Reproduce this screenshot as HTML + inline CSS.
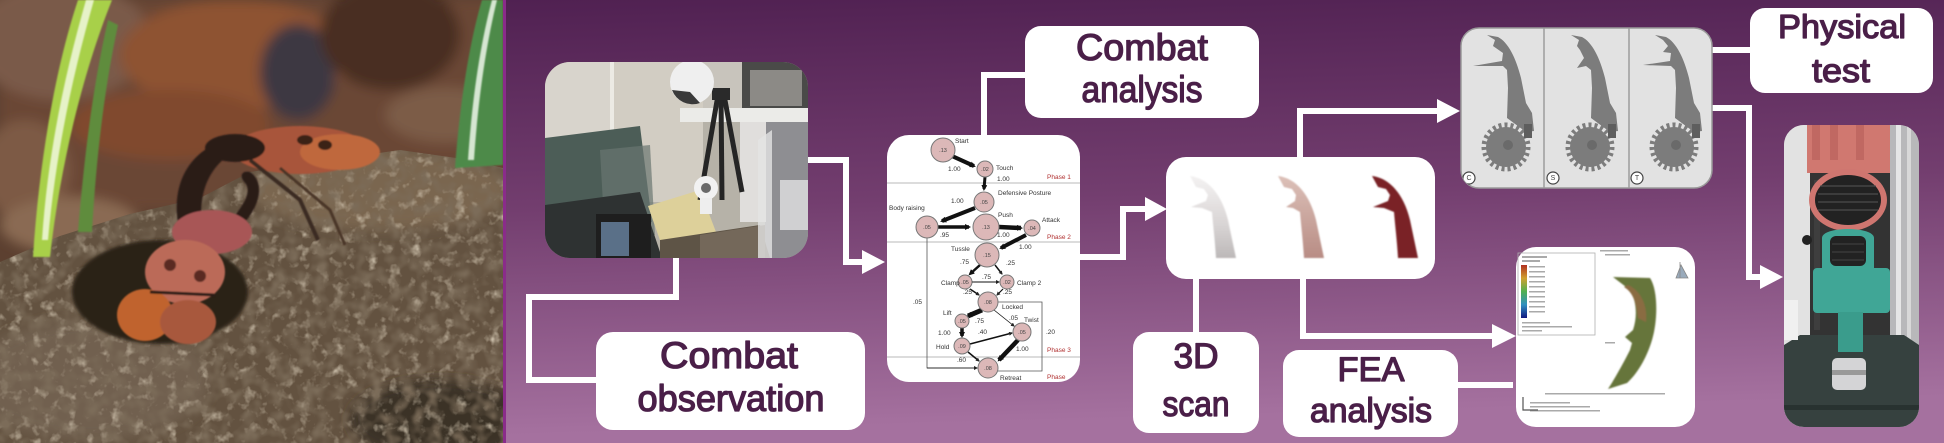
<!DOCTYPE html>
<html><head><meta charset="utf-8">
<style>
html,body{margin:0;padding:0;background:#4e1f50;overflow:hidden;}
svg{display:block;}
.lbl{font-family:"Liberation Sans","DejaVu Sans",sans-serif;fill:#4a1f48;stroke:#4a1f48;stroke-width:1.3;stroke-linejoin:round;text-anchor:middle;}
.nt{font-family:"Liberation Sans","DejaVu Sans",sans-serif;font-size:6.5px;fill:#333;}
.nr{font-family:"Liberation Sans","DejaVu Sans",sans-serif;font-size:6.5px;fill:#b03030;}
.nc{font-family:"Liberation Sans","DejaVu Sans",sans-serif;font-size:5.5px;fill:#444;text-anchor:middle;}
</style></head><body>
<svg width="1944" height="443" viewBox="0 0 1944 443" xmlns="http://www.w3.org/2000/svg">
<defs>
 <linearGradient id="bg" x1="0" y1="0" x2="0.12" y2="1">
  <stop offset="0" stop-color="#4e1f50"/>
  <stop offset="0.5" stop-color="#733e6f"/>
  <stop offset="1" stop-color="#a5719f"/>
 </linearGradient>
 <linearGradient id="m1" x1="0" y1="0" x2="0" y2="1">
  <stop offset="0" stop-color="#f4f2f2"/><stop offset="0.6" stop-color="#d8d4d4"/><stop offset="1" stop-color="#bcb8b8"/>
 </linearGradient>
 <linearGradient id="m2" x1="0" y1="0" x2="0" y2="1">
  <stop offset="0" stop-color="#dcc0b8"/><stop offset="1" stop-color="#b88c84"/>
 </linearGradient>
 <linearGradient id="cbar" x1="0" y1="0" x2="0" y2="1">
  <stop offset="0" stop-color="#b03020"/><stop offset="0.25" stop-color="#d0a030"/><stop offset="0.5" stop-color="#50b050"/><stop offset="0.75" stop-color="#3090c0"/><stop offset="1" stop-color="#101880"/>
 </linearGradient>
 <filter id="b6" x="-20%" y="-20%" width="140%" height="140%"><feGaussianBlur stdDeviation="6"/></filter>
 <filter id="b2" x="-20%" y="-20%" width="140%" height="140%"><feGaussianBlur stdDeviation="1.5"/></filter>
 <filter id="b1" x="-20%" y="-20%" width="140%" height="140%"><feGaussianBlur stdDeviation="0.8"/></filter>
 <filter id="tex" x="0" y="0" width="1" height="1">
  <feTurbulence type="fractalNoise" baseFrequency="0.09" numOctaves="3" seed="4" result="n"/>
  <feColorMatrix in="n" type="matrix" values="0 0 0 0 0.62  0 0 0 0 0.54  0 0 0 0 0.42  2.4 0 0 0 -1.3"/>
 </filter>
 <filter id="tex2" x="0" y="0" width="1" height="1">
  <feTurbulence type="fractalNoise" baseFrequency="0.07" numOctaves="2" seed="9" result="n"/>
  <feColorMatrix in="n" type="matrix" values="0 0 0 0 0.2  0 0 0 0 0.15  0 0 0 0 0.1  0 2.6 0 0 -1.1"/>
 </filter>
 <clipPath id="leftClip"><rect x="0" y="0" width="503" height="443"/></clipPath>
 <clipPath id="soilClip"><path d="M0,262 L60,236 L130,214 L200,198 L250,172 L330,160 L400,150 L470,160 L503,168 L503,443 L0,443 Z"/></clipPath>
 <clipPath id="labClip"><rect x="545" y="62" width="263" height="196" rx="25"/></clipPath>
 <clipPath id="netClip"><rect x="887" y="135" width="193" height="247" rx="22"/></clipPath>
 <clipPath id="cadClip"><rect x="1461" y="28" width="251" height="160" rx="18"/></clipPath>
 <clipPath id="tenClip"><rect x="1784" y="125" width="135" height="302" rx="20"/></clipPath>
 <marker id="ah" markerWidth="6" markerHeight="6" refX="4" refY="3" orient="auto" markerUnits="userSpaceOnUse"><path d="M0,0 L6,3 L0,6z" fill="#111"/></marker>
 <marker id="ahs" markerWidth="4" markerHeight="4" refX="3" refY="2" orient="auto" markerUnits="userSpaceOnUse"><path d="M0,0 L4,2 L0,4z" fill="#222"/></marker>
</defs>

<rect x="0" y="0" width="1944" height="443" fill="url(#bg)"/>
<rect x="503" y="0" width="3" height="443" fill="#8a2c8a"/>

<!-- LEFT PHOTO -->
<g clip-path="url(#leftClip)">
 <rect x="0" y="0" width="503" height="443" fill="#5c4030"/>
 <g filter="url(#b6)">
  <rect x="0" y="0" width="503" height="210" fill="#6a4634"/>
  <ellipse cx="60" cy="40" rx="90" ry="60" fill="#7a5a48"/>
  <ellipse cx="235" cy="55" rx="115" ry="55" fill="#8e5232"/>
  <ellipse cx="170" cy="125" rx="100" ry="35" fill="#80492f"/>
  <ellipse cx="298" cy="72" rx="38" ry="48" fill="#3c3942"/>
  <ellipse cx="390" cy="35" rx="70" ry="55" fill="#4a2e24"/>
  <ellipse cx="445" cy="115" rx="60" ry="28" fill="#7c5c46"/>
  <ellipse cx="25" cy="170" rx="45" ry="50" fill="#7d5a44"/>
  <ellipse cx="70" cy="225" rx="70" ry="28" fill="#8a6a52"/>
 </g>
 <g clip-path="url(#soilClip)">
  <rect x="0" y="140" width="503" height="303" fill="#635240"/>
  <ellipse cx="380" cy="190" rx="130" ry="40" fill="#7a6650" filter="url(#b6)"/>
  <ellipse cx="90" cy="380" rx="120" ry="60" fill="#716150" filter="url(#b6)"/>
  <ellipse cx="440" cy="420" rx="90" ry="40" fill="#3a3028" filter="url(#b6)"/>
  <rect x="0" y="140" width="503" height="303" filter="url(#tex)"/>
  <rect x="0" y="140" width="503" height="303" filter="url(#tex2)"/>
 </g>
 <ellipse cx="160" cy="292" rx="88" ry="52" fill="#2c2119" filter="url(#b2)"/>
 <path d="M33,257 C40,150 58,60 78,0 L112,0 C88,60 62,150 50,257 Z" fill="#a8d048" filter="url(#b1)"/>
 <path d="M42,240 C48,150 66,70 86,0 L94,0 C74,70 56,150 48,240 Z" fill="#e6f2c8" filter="url(#b1)"/>
 <path d="M78,232 C84,160 92,90 108,20 L118,25 C104,90 96,160 92,232 Z" fill="#5e8c3c" filter="url(#b1)"/>
 <path d="M455,168 C460,100 470,40 482,0 L503,0 L503,165 Z" fill="#4e8a4a" filter="url(#b1)"/>
 <path d="M468,160 C472,100 480,45 492,0 L497,0 C486,45 478,100 474,160 Z" fill="#d6e6d2" filter="url(#b1)"/>
 <g filter="url(#b1)">
  <ellipse cx="300" cy="150" rx="68" ry="24" fill="#a8553a"/>
  <ellipse cx="340" cy="152" rx="40" ry="18" fill="#bf683c"/>
  <ellipse cx="305" cy="140" rx="8" ry="5" fill="#3a2018"/>
  <ellipse cx="325" cy="145" rx="7" ry="5" fill="#3a2018"/>
  <path d="M250,160 L300,200 L318,240" stroke="#3a2a20" stroke-width="4" fill="none"/>
  <path d="M280,168 L330,210 L345,245" stroke="#4a3426" stroke-width="3" fill="none"/>
  <ellipse cx="235" cy="148" rx="30" ry="14" fill="#2a1c16"/>
  <path d="M178,222 C172,185 188,152 225,140 C238,136 246,142 238,150 C212,162 198,190 202,222 Z" fill="#2a1a16"/>
  <path d="M245,222 C260,205 265,182 250,172 C242,170 238,176 246,184 C252,195 240,208 232,220 Z" fill="#2a1a16"/>
  <ellipse cx="212" cy="232" rx="40" ry="22" fill="#a85656"/>
  <ellipse cx="185" cy="272" rx="40" ry="32" fill="#bb6a58"/>
  <circle cx="170" cy="265" r="6" fill="#5a2a24"/>
  <circle cx="200" cy="276" r="6" fill="#5a2a24"/>
  <ellipse cx="145" cy="315" rx="28" ry="26" fill="#c0642e"/>
  <ellipse cx="188" cy="322" rx="28" ry="22" fill="#a8583c"/>
  <path d="M150,292 L215,295" stroke="#2a1a14" stroke-width="3"/>
 </g>
</g>

<!-- WHITE CONNECTORS -->
<g fill="none" stroke="#ffffff" stroke-width="6" stroke-linejoin="miter">
 <polyline points="676,258 676,297 529,297 529,380 597,380"/>
 <polyline points="808,160 846,160 846,262 864,262"/>
 <polyline points="984,136 984,75 1026,75"/>
 <polyline points="1080,257 1123,257 1123,209 1147,209"/>
 <polyline points="1300,158 1300,111 1439,111"/>
 <polyline points="1196,278 1196,333"/>
 <polyline points="1303,278 1303,336 1494,336"/>
 <polyline points="1458,385 1513,385"/>
 <polyline points="1698,50 1751,50"/>
 <polyline points="1712,108 1749,108 1749,277 1762,277"/>
</g>
<g fill="#ffffff">
 <polygon points="862,250 885,262 862,274"/>
 <polygon points="1145,197 1167,209 1145,221"/>
 <polygon points="1437,99 1460,111 1437,123"/>
 <polygon points="1492,324 1516,336 1492,348"/>
 <polygon points="1760,265 1783,277 1760,289"/>
</g>

<!-- LAB PHOTO -->
<g clip-path="url(#labClip)">
 <rect x="545" y="62" width="263" height="196" fill="#b6b2a8"/>
 <rect x="545" y="62" width="68" height="80" fill="#d8d4cc"/>
 <rect x="613" y="62" width="90" height="140" fill="#d2cdc3"/>
 <rect x="610" y="62" width="4" height="140" fill="#eceae4"/>
 <rect x="703" y="62" width="40" height="50" fill="#c8c4bc"/>
 <rect x="742" y="62" width="66" height="50" fill="#4a4a48"/>
 <rect x="750" y="70" width="52" height="36" fill="#8c8a86"/>
 <rect x="680" y="108" width="128" height="14" fill="#ebebe8"/>
 <rect x="765" y="122" width="43" height="136" fill="#8e8e92"/>
 <rect x="780" y="180" width="28" height="50" fill="#d0d0d2"/>
 <rect x="740" y="122" width="26" height="100" fill="#e0dedc"/>
 <polygon points="545,138 640,126 652,222 545,242" fill="#4c5d57"/>
 <polygon points="600,150 650,145 655,235 605,240" fill="#6a7670" opacity="0.7"/>
 <polygon points="545,205 640,192 662,258 545,258" fill="#2e3232"/>
 <rect x="596" y="214" width="55" height="44" fill="#1e1e1e"/>
 <rect x="601" y="222" width="28" height="34" fill="#5a7088"/>
 <polygon points="648,206 700,190 716,232 662,246" fill="#ddd09a"/>
 <polygon points="660,240 760,225 770,258 660,258" fill="#5e5446"/>
 <polygon points="700,235 765,225 765,258 700,258" fill="#74685a"/>
 <polygon points="758,140 772,130 772,258 758,258" fill="#e4e4e4" opacity="0.8"/>
 <g stroke="#252525" stroke-width="5" fill="none">
  <line x1="718" y1="95" x2="700" y2="200"/>
  <line x1="724" y1="95" x2="742" y2="192"/>
  <line x1="721" y1="95" x2="722" y2="200"/>
 </g>
 <rect x="712" y="88" width="18" height="12" fill="#2a2a2a"/>
 <circle cx="692" cy="82" r="22" fill="#efefef"/>
 <path d="M672,90 A22,22 0 0 0 700,103 L690,92 Z" fill="#3a3a3a"/>
 <circle cx="706" cy="188" r="12" fill="#f2f2f2"/>
 <circle cx="706" cy="188" r="5" fill="#6a6a6a"/>
 <rect x="700" y="198" width="12" height="16" fill="#eeeeee"/>
</g>

<!-- NETWORK DIAGRAM -->
<rect x="887" y="135" width="193" height="247" rx="22" fill="#ffffff"/>
<g clip-path="url(#netClip)">
 <g stroke="#a0a0a0" stroke-width="0.8">
  <line x1="887" y1="183" x2="1080" y2="183"/>
  <line x1="887" y1="242" x2="1080" y2="242"/>
  <line x1="887" y1="357" x2="1080" y2="357"/>
 </g>
 <g fill="none" stroke="#555" stroke-width="0.8">
  <polyline points="927,238 927,368 976,368"/>
  <polyline points="996,302 1042,302 1042,371 998,371"/>
 </g>
 <g stroke="#111" fill="none">
  <line x1="952" y1="156" x2="974" y2="166" stroke-width="4" marker-end="url(#ah)"/>
  <line x1="985" y1="177" x2="984" y2="189" stroke-width="3" marker-end="url(#ah)"/>
  <line x1="975" y1="208" x2="942" y2="221" stroke-width="4" marker-end="url(#ah)"/>
  <line x1="938" y1="227" x2="969" y2="227" stroke-width="3.5" marker-end="url(#ah)"/>
  <line x1="999" y1="227" x2="1021" y2="228" stroke-width="4.5" marker-end="url(#ah)"/>
  <line x1="1026" y1="235" x2="1001" y2="248" stroke-width="4" marker-end="url(#ah)"/>
  <line x1="980" y1="265" x2="970" y2="274" stroke-width="2.5" marker-end="url(#ah)"/>
  <line x1="995" y1="265" x2="1002" y2="274" stroke-width="1.5" marker-end="url(#ahs)"/>
  <line x1="973" y1="282" x2="999" y2="282" stroke-width="1" marker-end="url(#ahs)" marker-start="url(#ahs)"/>
  <line x1="970" y1="289" x2="979" y2="295" stroke-width="1.5" marker-end="url(#ahs)"/>
  <line x1="1003" y1="289" x2="997" y2="295" stroke-width="1.2" marker-end="url(#ahs)"/>
  <line x1="982" y1="310" x2="968" y2="316" stroke-width="5" marker-end="url(#ah)"/>
  <line x1="994" y1="310" x2="1014" y2="326" stroke-width="0.8" marker-end="url(#ahs)"/>
  <line x1="962" y1="328" x2="962" y2="336" stroke-width="3.5" marker-end="url(#ah)"/>
  <line x1="970" y1="344" x2="1012" y2="333" stroke-width="1.5" marker-end="url(#ahs)"/>
  <line x1="968" y1="352" x2="979" y2="361" stroke-width="1.5" marker-end="url(#ahs)"/>
  <line x1="1018" y1="340" x2="999" y2="360" stroke-width="4.5" marker-end="url(#ah)"/>
  <line x1="927" y1="368" x2="977" y2="368" stroke-width="0.8" marker-end="url(#ahs)"/>
 </g>
 <g fill="#dcb8b8" stroke="#777" stroke-width="1">
  <circle cx="943" cy="150" r="12"/>
  <circle cx="985" cy="169" r="8"/>
  <circle cx="984" cy="202" r="10"/>
  <circle cx="927" cy="227" r="11"/>
  <circle cx="986" cy="227" r="13"/>
  <circle cx="1032" cy="228" r="8"/>
  <circle cx="987" cy="255" r="12"/>
  <circle cx="965" cy="282" r="7"/>
  <circle cx="1007" cy="282" r="7"/>
  <circle cx="988" cy="302" r="10"/>
  <circle cx="962" cy="321" r="7"/>
  <circle cx="1022" cy="332" r="9"/>
  <circle cx="962" cy="346" r="8"/>
  <circle cx="988" cy="368" r="10"/>
 </g>
 <text class="nc" x="943" y="152">.13</text>
 <text class="nc" x="985" y="171">.02</text>
 <text class="nc" x="984" y="204">.05</text>
 <text class="nc" x="927" y="229">.05</text>
 <text class="nc" x="986" y="229">.13</text>
 <text class="nc" x="1032" y="230">.04</text>
 <text class="nc" x="987" y="257">.15</text>
 <text class="nc" x="965" y="284">.05</text>
 <text class="nc" x="1007" y="284">.02</text>
 <text class="nc" x="988" y="304">.08</text>
 <text class="nc" x="962" y="323">.05</text>
 <text class="nc" x="1022" y="334">.05</text>
 <text class="nc" x="962" y="348">.09</text>
 <text class="nc" x="988" y="370">.08</text>
 <text class="nt" x="955" y="143">Start</text>
 <text class="nt" x="996" y="170">Touch</text>
 <text class="nt" x="948" y="171">1.00</text>
 <text class="nt" x="997" y="181">1.00</text>
 <text class="nr" x="1047" y="179">Phase 1</text>
 <text class="nt" x="998" y="195">Defensive Posture</text>
 <text class="nt" x="951" y="203">1.00</text>
 <text class="nt" x="889" y="210">Body raising</text>
 <text class="nt" x="998" y="217">Push</text>
 <text class="nt" x="1042" y="222">Attack</text>
 <text class="nt" x="940" y="237">.95</text>
 <text class="nt" x="997" y="237">1.00</text>
 <text class="nr" x="1047" y="239">Phase 2</text>
 <text class="nt" x="1019" y="249">1.00</text>
 <text class="nt" x="951" y="251">Tussle</text>
 <text class="nt" x="960" y="264">.75</text>
 <text class="nt" x="1006" y="265">.25</text>
 <text class="nt" x="982" y="279">.75</text>
 <text class="nt" x="941" y="285">Clamp</text>
 <text class="nt" x="1017" y="285">Clamp 2</text>
 <text class="nt" x="963" y="294">.25</text>
 <text class="nt" x="1003" y="294">.25</text>
 <text class="nt" x="913" y="304">.05</text>
 <text class="nt" x="1002" y="309">Locked</text>
 <text class="nt" x="943" y="315">Lift</text>
 <text class="nt" x="975" y="323">.75</text>
 <text class="nt" x="1009" y="320">.05</text>
 <text class="nt" x="1024" y="322">Twist</text>
 <text class="nt" x="1046" y="334">.20</text>
 <text class="nt" x="938" y="335">1.00</text>
 <text class="nt" x="978" y="334">.40</text>
 <text class="nt" x="936" y="349">Hold</text>
 <text class="nt" x="1016" y="351">1.00</text>
 <text class="nr" x="1047" y="352">Phase 3</text>
 <text class="nt" x="957" y="362">.60</text>
 <text class="nt" x="1000" y="380">Retreat</text>
 <text class="nr" x="1047" y="379">Phase</text>
</g>

<!-- SCAN BOX -->
<rect x="1166" y="157" width="269" height="122" rx="20" fill="#ffffff"/>
<g filter="url(#b1)">
 <path transform="translate(-182,0)" d="M1372,176 C1390,178 1404,195 1410,220 L1418,258 L1398,258 C1397,240 1395,225 1394,212 L1384,208 L1373,207 L1388,201 L1390,195 L1386,189 L1378,187 Z" fill="url(#m1)"/>
 <path transform="translate(-94,0)" d="M1372,176 C1390,178 1404,195 1410,220 L1418,258 L1398,258 C1397,240 1395,225 1394,212 L1387,208 L1380,207 L1389,201 L1390,195 L1386,189 L1378,187 Z" fill="url(#m2)"/>
 <path d="M1372,176 C1390,178 1404,195 1410,220 L1418,258 L1398,258 C1397,240 1395,225 1394,212 L1384,208 L1373,207 L1388,201 L1390,195 L1386,189 L1378,187 Z" fill="#7a2428"/>
</g>

<!-- CAD BOX -->
<rect x="1461" y="28" width="251" height="160" rx="18" fill="#e2e2e2" stroke="#9a9a9a" stroke-width="1.5"/>
<g clip-path="url(#cadClip)">
 <line x1="1544" y1="28" x2="1544" y2="188" stroke="#9c9c9c" stroke-width="1.5"/>
 <line x1="1629" y1="28" x2="1629" y2="188" stroke="#9c9c9c" stroke-width="1.5"/>
 <g fill="#7c7c7c">
  <path d="M1487,35 L1498,37 C1508,42 1516,58 1521,78 L1526,103 L1532,113 L1534,131 L1526,132 L1507,118 L1508,88 L1507,70 L1503,66 L1473,66 L1502,61 L1503,53 L1493,46 L1495,40 Z"/>
  <circle cx="1506" cy="147" r="20"/>
  <circle cx="1506" cy="147" r="22" fill="none" stroke="#7c7c7c" stroke-width="5" stroke-dasharray="3 3"/>
  <circle cx="1508" cy="145" r="5" fill="#6a6a6a"/>
  <rect x="1524" y="124" width="8" height="14" fill="#5e5e5e"/>
 </g>
 <g transform="translate(84,0)" fill="#7c7c7c">
  <path d="M1487,35 L1498,37 C1508,42 1516,58 1521,78 L1526,103 L1532,113 L1534,131 L1526,132 L1507,118 L1508,88 L1507,70 L1502,66 L1493,68 L1500,58 L1496,50 L1493,46 L1495,40 Z"/>
  <circle cx="1506" cy="147" r="20"/>
  <circle cx="1506" cy="147" r="22" fill="none" stroke="#7c7c7c" stroke-width="5" stroke-dasharray="3 3"/>
  <circle cx="1508" cy="145" r="5" fill="#6a6a6a"/>
  <rect x="1524" y="124" width="8" height="14" fill="#5e5e5e"/>
 </g>
 <g transform="translate(168,0)" fill="#7c7c7c">
  <path d="M1487,35 L1498,37 C1508,42 1516,58 1521,78 L1526,103 L1532,113 L1534,131 L1526,132 L1507,118 L1508,88 L1507,70 L1503,66 L1475,65 L1502,61 L1503,53 L1495,52 L1500,46 L1495,40 Z"/>
  <circle cx="1506" cy="147" r="20"/>
  <circle cx="1506" cy="147" r="22" fill="none" stroke="#7c7c7c" stroke-width="5" stroke-dasharray="3 3"/>
  <circle cx="1508" cy="145" r="5" fill="#6a6a6a"/>
  <rect x="1524" y="124" width="8" height="14" fill="#5e5e5e"/>
 </g>
 <g fill="#ffffff" stroke="#444" stroke-width="1.2">
  <circle cx="1469" cy="178" r="6"/>
  <circle cx="1553" cy="178" r="6"/>
  <circle cx="1637" cy="178" r="6"/>
 </g>
 <text class="nc" x="1469" y="180" style="font-size:7px">C</text>
 <text class="nc" x="1553" y="180" style="font-size:7px">S</text>
 <text class="nc" x="1637" y="180" style="font-size:7px">T</text>
</g>

<!-- FEA IMAGE -->
<rect x="1516" y="247" width="179" height="180" rx="20" fill="#ffffff"/>
<rect x="1518" y="253" width="77" height="82" fill="none" stroke="#b0b0b0" stroke-width="0.8"/>
<rect x="1521" y="265" width="6" height="53" fill="url(#cbar)"/>
<g fill="#aaaaaa">
 <rect x="1522" y="256" width="25" height="2"/>
 <rect x="1522" y="260" width="18" height="2"/>
 <rect x="1529" y="266" width="16" height="1.5"/>
 <rect x="1529" y="271" width="16" height="1.5"/>
 <rect x="1529" y="276" width="16" height="1.5"/>
 <rect x="1529" y="281" width="16" height="1.5"/>
 <rect x="1529" y="286" width="16" height="1.5"/>
 <rect x="1529" y="291" width="16" height="1.5"/>
 <rect x="1529" y="296" width="16" height="1.5"/>
 <rect x="1529" y="301" width="16" height="1.5"/>
 <rect x="1529" y="306" width="16" height="1.5"/>
 <rect x="1529" y="311" width="16" height="1.5"/>
 <rect x="1522" y="322" width="28" height="1.5"/>
 <rect x="1522" y="326" width="50" height="1.5"/>
 <rect x="1522" y="330" width="20" height="1.5"/>
 <rect x="1545" y="393" width="120" height="1.5"/>
 <rect x="1530" y="402" width="40" height="1.5"/>
 <rect x="1530" y="406" width="60" height="1.5"/>
 <rect x="1530" y="410" width="70" height="1.5"/>
 <rect x="1600" y="250" width="28" height="1.5"/>
 <rect x="1605" y="254" width="25" height="1.5"/>
 <rect x="1605" y="342" width="10" height="1.5"/>
</g>
<path d="M1523,397 L1523,410 L1538,410" stroke="#555" stroke-width="1.2" fill="none"/>
<path d="M1680,262 L1680,278 M1676,278 L1688,278 L1681,265 Z" stroke="#888" stroke-width="0.8" fill="#9ab"/>
<g filter="url(#b1)">
 <path d="M1613,277 L1650,278 C1658,290 1658,320 1652,340 C1646,360 1636,375 1627,383 L1608,389 C1614,380 1624,362 1630,350 L1632,343 L1625,337 L1633,330 C1638,315 1636,300 1630,290 Z" fill="#66743a"/>
 <path d="M1628,285 C1640,290 1648,305 1646,322 L1638,318 C1636,300 1632,292 1624,287 Z" fill="#8a6c42"/>
</g>

<!-- TENSILE TEST PHOTO -->
<g clip-path="url(#tenClip)">
 <rect x="1784" y="125" width="135" height="302" fill="#d2d2d4"/>
 <rect x="1784" y="125" width="26" height="302" fill="#e2e2e2"/>
 <rect x="1890" y="125" width="29" height="302" fill="#b8b8ba"/>
 <rect x="1896" y="125" width="5" height="250" fill="#e6e6e6"/>
 <rect x="1907" y="125" width="4" height="250" fill="#d8d8d8"/>
 <rect x="1810" y="165" width="80" height="180" fill="#333"/>
 <rect x="1814" y="180" width="6" height="150" fill="#3e3e3e"/>
 <rect x="1807" y="125" width="83" height="48" fill="#d07870"/>
 <rect x="1812" y="125" width="8" height="35" fill="#c06862"/>
 <rect x="1830" y="125" width="8" height="35" fill="#c06862"/>
 <rect x="1856" y="125" width="8" height="35" fill="#c06862"/>
 <ellipse cx="1848" cy="200" rx="36" ry="28" fill="#222" stroke="#cf7670" stroke-width="6"/>
 <g stroke="#555" stroke-width="1">
  <line x1="1820" y1="186" x2="1876" y2="186"/><line x1="1818" y1="194" x2="1878" y2="194"/>
  <line x1="1818" y1="202" x2="1878" y2="202"/><line x1="1818" y1="210" x2="1878" y2="210"/>
 </g>
 <circle cx="1807" cy="240" r="5" fill="#222"/>
 <rect x="1813" y="268" width="77" height="45" rx="4" fill="#40a696"/>
 <path d="M1822,272 L1822,238 C1822,226 1874,226 1874,238 L1874,272 Z" fill="#40a696"/>
 <rect x="1830" y="236" width="36" height="30" rx="6" fill="#222"/>
 <g stroke="#444" stroke-width="1"><line x1="1832" y1="244" x2="1864" y2="244"/><line x1="1832" y1="252" x2="1864" y2="252"/><line x1="1832" y1="260" x2="1864" y2="260"/></g>
 <polygon points="1784,345 1800,335 1904,335 1919,345 1919,427 1784,427" fill="#36413f"/>
 <rect x="1784" y="405" width="135" height="5" fill="#283230"/>
 <rect x="1838" y="312" width="25" height="40" fill="#3a9c8c"/>
 <rect x="1832" y="358" width="34" height="32" rx="5" fill="#d4d4d6"/>
 <rect x="1832" y="370" width="34" height="5" fill="#999"/>
 <rect x="1784" y="300" width="14" height="40" fill="#f0f0f0"/>
</g>

<!-- LABEL BOXES -->
<g fill="#ffffff">
 <rect x="1025" y="26" width="234" height="92" rx="16"/>
 <rect x="596" y="332" width="269" height="98" rx="17"/>
 <rect x="1133" y="332" width="126" height="101" rx="16"/>
 <rect x="1283" y="350" width="175" height="87" rx="16"/>
 <rect x="1750" y="8" width="183" height="85" rx="15"/>
</g>
<text class="lbl" x="1142" y="60" font-size="37" textLength="132" lengthAdjust="spacingAndGlyphs">Combat</text>
<text class="lbl" x="1142" y="102" font-size="37" textLength="121" lengthAdjust="spacingAndGlyphs">analysis</text>
<text class="lbl" x="729" y="368" font-size="37" textLength="138" lengthAdjust="spacingAndGlyphs">Combat</text>
<text class="lbl" x="731" y="411" font-size="37" textLength="187" lengthAdjust="spacingAndGlyphs">observation</text>
<text class="lbl" x="1196" y="368" font-size="35" textLength="45" lengthAdjust="spacingAndGlyphs">3D</text>
<text class="lbl" x="1196" y="416" font-size="35" textLength="67" lengthAdjust="spacingAndGlyphs">scan</text>
<text class="lbl" x="1371" y="381" font-size="34" textLength="67" lengthAdjust="spacingAndGlyphs">FEA</text>
<text class="lbl" x="1371" y="422" font-size="34" textLength="122" lengthAdjust="spacingAndGlyphs">analysis</text>
<text class="lbl" x="1842" y="38" font-size="33" textLength="128" lengthAdjust="spacingAndGlyphs">Physical</text>
<text class="lbl" x="1841" y="82" font-size="33" textLength="58" lengthAdjust="spacingAndGlyphs">test</text>
</svg>
</body></html>
